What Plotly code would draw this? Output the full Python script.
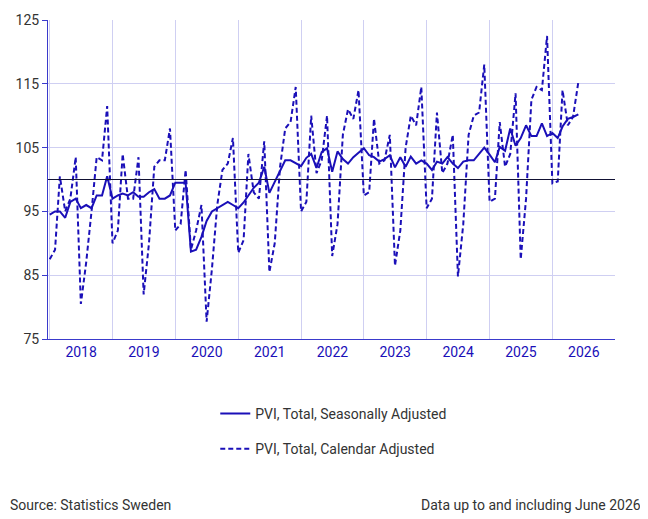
import pandas as pd
import plotly.graph_objects as go

months = pd.date_range("2018-01-01", "2026-06-01", freq="MS")

# PVI, Total, Seasonally Adjusted
sa = [94.5, 95, 95, 94, 96.5, 97, 95.5, 96, 95.5, 97.5, 97.5, 100.5,
      97, 97.5, 97.8, 97.5, 98, 97.3, 97.3, 98, 98.5, 97, 97, 97.5,
      99.5, 99.5, 99.5, 88.7, 89, 91, 93.5, 95, 95.5, 96, 96.5, 96,
      95.5, 96.4, 97.5, 98.7, 99.5, 102, 97.9, 99.6, 101.5, 103, 103, 102.5,
      102.1, 103.4, 104, 101.8, 104.3, 104.9, 101.2, 104.4, 103.2, 102.5, 103.5, 104.2,
      104.9, 103.8, 103.5, 102.8, 103.2, 103.8, 101.9, 103.5, 102, 103.6, 102.5, 103,
      102.5, 101.5, 102.8, 102.5, 103.5, 102.5, 101.8, 102.8, 103, 103, 104, 105,
      103.9, 102.7, 105.1, 104.5, 108, 105.3, 106.5, 108.5, 106.8, 106.8, 108.8, 106.8,
      107.3, 106.5, 108.3, 109.5, 109.8, 110.2]

# PVI, Total, Calendar Adjusted
ca = [87.5, 89, 100.5, 95, 97, 103.5, 80.5, 87, 95, 103.5, 103, 111.5,
      90, 92, 104, 97, 97, 103.5, 82, 90, 102, 103, 103, 108,
      92, 93, 101.5, 89, 92, 96, 77.7, 86, 96, 101.5, 102.5, 106.5,
      88.5, 90.5, 104, 98, 97, 106, 85.5, 90, 102, 108, 109, 114.5,
      95, 96.5, 110, 101, 103, 110, 88, 93, 107, 111, 109.5, 114,
      97.5, 98, 109.5, 102.5, 103, 107, 86.5, 92, 105, 110, 108.5, 114.5,
      95.5, 97, 110.5, 101, 102.5, 107, 84.8, 93, 107, 110, 110.5, 118,
      96.5, 97, 109, 102, 104, 113.5, 87.5, 97, 112.5, 114.5, 114, 122.5,
      99.4, 99.7, 114, 108.5, 109.8, 115.3]

blue = "#1a0fb8"
fig = go.Figure()
fig.add_trace(go.Scatter(x=months, y=sa, mode="lines", name="PVI, Total, Seasonally Adjusted",
                         legendgroup="sa", line=dict(color=blue, width=2)))
fig.add_trace(go.Scatter(x=months, y=ca, mode="lines", name="PVI, Total, Calendar Adjusted",
                         legendgroup="ca", line=dict(color=blue, width=2, dash="5px,3px")))
fig.add_hline(y=100, line=dict(color="#111133", width=1))

fig.update_layout(
    width=648, height=519, plot_bgcolor="white", paper_bgcolor="white",
    margin=dict(l=40, r=41, t=12, b=188),
    font=dict(family="Roboto", size=14, color="#333333"),
    xaxis=dict(range=["2017-12-22", "2026-12-31"], dtick="M12", tick0="2018-01-01",
               ticklabelmode="period", tickformat="%Y", showgrid=True, gridcolor="#cfcff2",
               showline=True, linecolor="#3a3acc", ticks="", automargin=False,
               tickfont=dict(color="#1a0fb8")),
    yaxis=dict(range=[75, 125], tickvals=[75, 85, 95, 105, 115, 125], showgrid=True,
               gridcolor="#cfcff2", showline=True, linecolor="#3a3acc", ticks="outside",
               ticklen=5, tickcolor="#3a3acc", zeroline=False, automargin=False,
               tickfont=dict(color="#333333")),
    legend=dict(x=0.295, y=-0.185, xanchor="left", yanchor="top", tracegroupgap=14,
                font=dict(size=14)),
    showlegend=True,
)
fig.add_annotation(text="Source: Statistics Sweden", xref="paper", yref="paper",
                   x=-0.0705, y=-0.52, xanchor="left", yanchor="middle", showarrow=False)
fig.add_annotation(text="Data up to and including June 2026", xref="paper", yref="paper",
                   x=1.05, y=-0.52, xanchor="right", yanchor="middle", showarrow=False)
fig.write_html("out.html")
